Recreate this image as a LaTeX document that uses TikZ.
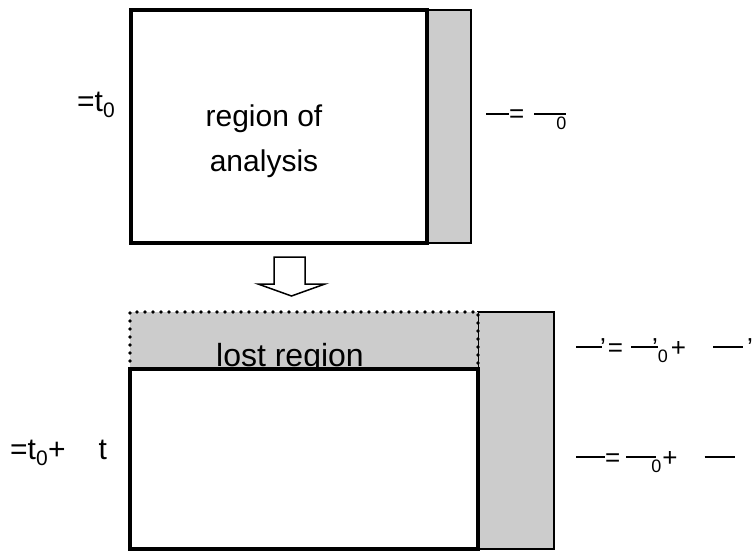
\documentclass[tikz,border=0pt]{standalone}
\usepackage{fontspec}
\setmainfont{Liberation Sans}
\newcommand\eqbar[1]{\rule[8pt]{#1}{2.4pt}}
\newcommand\eqsub[1]{\raisebox{-6pt}{\fontsize{18}{18}\selectfont #1}}
\begin{document}
\begin{tikzpicture}[x=1pt,y=-1pt,
  thickbox/.style={draw=black, line width=3.2pt, fill=white, inner sep=0pt, outer sep=0pt},
  shadebox/.style={draw=black, line width=1.6pt, fill=black!20, inner sep=0pt, outer sep=0pt},
  lostbox/.style={fill=black!20, inner sep=0pt, outer sep=0pt},
  dotline/.style={line width=3.6pt, line cap=round, dash pattern=on 0pt off 8pt},
  lbl/.style={font=\fontsize{30}{45}\selectfont, inner sep=0pt},
  eq/.style={font=\fontsize{26}{30}\selectfont, inner sep=0pt, anchor=base west},
  blockarrow/.style={draw=black, line width=1.5pt, fill=white, line join=miter}]
\useasboundingbox (0,0) rectangle (756,551);

% ---------- top state ----------
\node[shadebox, minimum width=44pt, minimum height=233pt] (strip1) at (449,126.5) {};
\node[thickbox, minimum width=296pt, minimum height=233pt] (box1) at (279,126.5) {};
\node[lbl, align=center] (roa) at (264,141) {region of\\analysis};
\node[lbl, anchor=west] (tzero) at (77,105) {=t\textsubscript{0}};
\node[eq] (eqtop) at (486,123) {\eqbar{23pt}=\hspace{10pt}\eqbar{32pt}\hspace{-10pt}\eqsub{0}};

% ---------- transition arrow ----------
\draw[blockarrow] (274,257) -- (305,257) -- (305,284) -- (325,284) -- (291.5,296)
  -- (258,284) -- (274,284) -- cycle;

% ---------- later state ----------
\node[shadebox, minimum width=76pt, minimum height=237pt] (strip2) at (516,430.5) {};
\node[lostbox, minimum width=348pt, minimum height=57pt] (lost) at (304,340.5) {};
\draw[dotline] (lost.south west) -- (lost.north west) -- (lost.north east) -- (lost.south east);
\node[font=\fontsize{32}{36}\selectfont, inner sep=0pt, anchor=base] (losttext) at (290,366) {lost region};
\node[thickbox, minimum width=348pt, minimum height=180pt] (box2) at (304,459) {};
\node[lbl, anchor=west] (tlater) at (10,453) {=t\textsubscript{0}+\hspace{33pt}t};
\node[eq] (eqone) at (576,356) {\eqbar{26pt}\hspace{-2pt}’\hspace{2pt}=\hspace{8pt}\eqbar{27pt}\hspace{-6pt}’\eqsub{0}\hspace{3pt}+\hspace{27pt}\eqbar{30pt}\hspace{4pt}’};
\node[eq] (eqtwo) at (576,466) {\eqbar{29pt}=\hspace{6pt}\eqbar{30pt}\hspace{-5pt}\eqsub{0}\hspace{1pt}+\hspace{27pt}\eqbar{30pt}};
\end{tikzpicture}
\end{document}
